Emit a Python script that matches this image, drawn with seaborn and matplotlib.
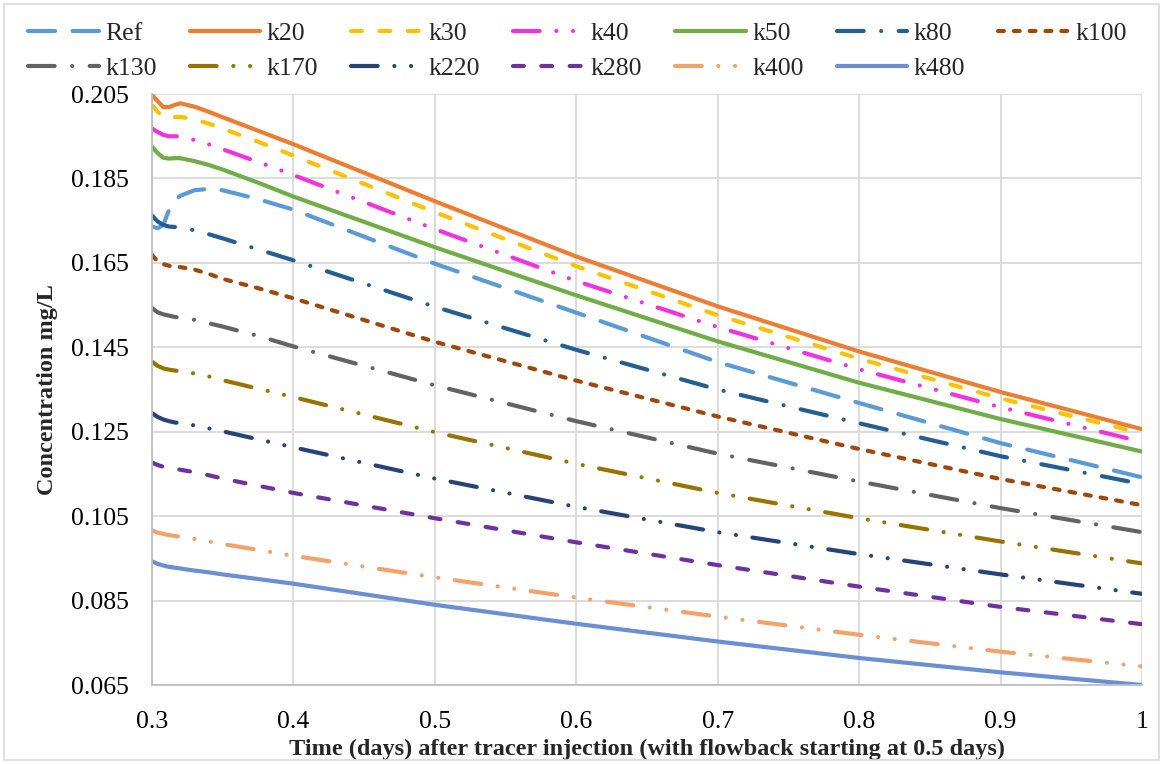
import matplotlib
matplotlib.use("Agg")
import matplotlib.pyplot as plt
from matplotlib.lines import Line2D
from matplotlib.patches import Rectangle
import numpy as np
import pandas as pd
import seaborn as sns

# Time after tracer injection (days)
TIME = [0.300, 0.304, 0.308, 0.312, 0.316, 0.320, 0.330, 0.340, 0.350, 0.375,
        0.400, 0.500, 0.600, 0.700, 0.800, 0.900, 1.000]

# Concentration (mg/L) for each case
REF = [0.1736, 0.1732, 0.1740, 0.1775, 0.1797, 0.1809, 0.1822, 0.1825, 0.1822, 0.1801,
       0.1776, 0.1648, 0.1532, 0.1415, 0.1318, 0.1223, 0.1142]
K20 = [0.2048, 0.2033, 0.2019, 0.2019, 0.2024, 0.2028, 0.2020, 0.2008, 0.1995, 0.1963,
       0.1931, 0.1796, 0.1665, 0.1547, 0.1440, 0.1344, 0.1256]
K30 = [0.2024, 0.2008, 0.1995, 0.1993, 0.1995, 0.1996, 0.1990, 0.1980, 0.1968, 0.1937,
       0.1904, 0.1770, 0.1642, 0.1526, 0.1423, 0.1329, 0.1246]
K40 = [0.1968, 0.1960, 0.1953, 0.1950, 0.1950, 0.1949, 0.1941, 0.1931, 0.1919, 0.1889,
       0.1858, 0.1730, 0.1607, 0.1498, 0.1398, 0.1308, 0.1226]
K50 = [0.1925, 0.1910, 0.1899, 0.1897, 0.1898, 0.1898, 0.1891, 0.1882, 0.1871, 0.1840,
       0.1807, 0.1687, 0.1573, 0.1464, 0.1366, 0.1280, 0.1203]
K80 = [0.1762, 0.1748, 0.1740, 0.1736, 0.1735, 0.1734, 0.1727, 0.1718, 0.1708, 0.1682,
       0.1656, 0.1546, 0.1444, 0.1350, 0.1270, 0.1192, 0.1126]
K100 = [0.1669, 0.1653, 0.1647, 0.1643, 0.1641, 0.1640, 0.1634, 0.1624, 0.1612, 0.1590,
        0.1566, 0.1463, 0.1371, 0.1286, 0.1209, 0.1138, 0.1076]
K130 = [0.1543, 0.1533, 0.1528, 0.1525, 0.1522, 0.1520, 0.1515, 0.1507, 0.1499, 0.1477,
        0.1452, 0.1360, 0.1275, 0.1198, 0.1132, 0.1069, 0.1012]
K170 = [0.1416, 0.1406, 0.1400, 0.1397, 0.1395, 0.1393, 0.1388, 0.1381, 0.1372, 0.1352,
        0.1332, 0.1249, 0.1174, 0.1105, 0.1045, 0.0990, 0.0938]
K220 = [0.1294, 0.1285, 0.1279, 0.1275, 0.1272, 0.1270, 0.1265, 0.1258, 0.1251, 0.1232,
        0.1213, 0.1139, 0.1072, 0.1012, 0.0960, 0.0912, 0.0866]
K280 = [0.1177, 0.1171, 0.1167, 0.1164, 0.1162, 0.1160, 0.1154, 0.1147, 0.1139, 0.1122,
        0.1105, 0.1045, 0.0988, 0.0934, 0.0883, 0.0835, 0.0794]
K400 = [0.1016, 0.1011, 0.1008, 0.1005, 0.1003, 0.1001, 0.0996, 0.0990, 0.0984, 0.0970,
        0.0956, 0.0905, 0.0857, 0.0812, 0.0769, 0.0729, 0.0694]
K480 = [0.0943, 0.0937, 0.0933, 0.0930, 0.0928, 0.0926, 0.0921, 0.0917, 0.0912, 0.0901,
        0.0890, 0.0840, 0.0795, 0.0753, 0.0714, 0.0680, 0.0650]

NAMES = ["Ref", "k20", "k30", "k40", "k50", "k80", "k100",
         "k130", "k170", "k220", "k280", "k400", "k480"]
SERIES = [REF, K20, K30, K40, K50, K80, K100, K130, K170, K220, K280, K400, K480]

X_TICKS = [0.3, 0.4, 0.5, 0.6, 0.7, 0.8, 0.9, 1.0]
X_TICK_LABELS = ["0.3", "0.4", "0.5", "0.6", "0.7", "0.8", "0.9", "1"]
Y_TICKS = [0.065, 0.085, 0.105, 0.125, 0.145, 0.165, 0.185, 0.205]

COLORS = {
    "Ref": "#5B9BD5", "k20": "#ED7D31", "k30": "#FFC000", "k40": "#F033DC",
    "k50": "#70AD47", "k80": "#255E91", "k100": "#9E480E", "k130": "#636363",
    "k170": "#997300", "k220": "#264478", "k280": "#7030A0", "k400": "#F5A26A",
    "k480": "#6A8FD2",
}

# dash patterns in units of line width (round caps lengthen each dash)
LONG_DASH = (6.5, 4.2)
DASH = (2.6, 4.2)
SYS_DASH = (1.4, 2.4)
LONG_DASH_DOT = (6.4, 4.2, 0.01, 4.2)
LONG_DASH_DOT_DOT = (6.4, 4.0, 0.01, 4.0, 0.01, 4.0)
DASHES = {
    "Ref": LONG_DASH, "k20": "", "k30": DASH, "k40": LONG_DASH_DOT_DOT,
    "k50": "", "k80": LONG_DASH_DOT, "k100": SYS_DASH, "k130": LONG_DASH_DOT,
    "k170": LONG_DASH_DOT_DOT, "k220": LONG_DASH_DOT_DOT, "k280": DASH,
    "k400": LONG_DASH_DOT_DOT, "k480": "",
}

df = pd.concat(
    [pd.DataFrame({"t": TIME, "c": vals, "series": name}) for name, vals in zip(NAMES, SERIES)],
    ignore_index=True,
)

sns.set_theme(style="white")
plt.rcParams["font.family"] = ["Liberation Serif", "DejaVu Serif"]

W, H = 1163, 764
fig = plt.figure(figsize=(W / 100, H / 100), dpi=100)
ax = fig.add_axes([152 / W, 1 - 685 / H, 990 / W, 591 / H])

LW = 3.0
sns.lineplot(
    data=df, x="t", y="c", hue="series", style="series",
    hue_order=NAMES, style_order=NAMES, palette=COLORS, dashes=DASHES,
    linewidth=LW, estimator=None, sort=False, legend=False, ax=ax,
)
for ln in ax.lines:
    ln.set_dash_capstyle("round")
    ln.set_solid_capstyle("round")

ax.set_xlim(0.3, 1.0)
ax.set_ylim(0.065, 0.205)
ax.set_xticks(X_TICKS)
ax.set_xticklabels(X_TICK_LABELS)
ax.set_yticks(Y_TICKS)
ax.set_yticklabels([f"{v:.3f}" for v in Y_TICKS])
ax.tick_params(axis="both", length=0, labelsize=18.5, colors="#000000")
ax.tick_params(axis="x", pad=19)
ax.tick_params(axis="y", pad=17)

ax.grid(True, color="#D9D9D9", linewidth=1.3)
ax.set_axisbelow(True)
for side in ["top", "right"]:
    ax.spines[side].set_visible(False)
for side in ["left", "bottom"]:
    ax.spines[side].set_color("#BFBFBF")
    ax.spines[side].set_linewidth(1.3)

ax.set_xlabel("Time (days) after tracer injection (with flowback starting at 0.5 days)",
              fontsize=17.5, fontweight="bold", labelpad=4)
ax.set_ylabel("Concentration mg/L", fontsize=17.5, fontweight="bold", labelpad=9)

# legend laid out row by row: seven entries on the first row, six on the second
handles = {}
for name in NAMES:
    d = DASHES[name]
    if d == "":
        handles[name] = Line2D([], [], color=COLORS[name], lw=LW, solid_capstyle="round")
    else:
        handles[name] = Line2D([], [], color=COLORS[name], lw=LW, dashes=d,
                               dash_capstyle="round")
ncol = 7
order = []
for c in range(ncol):
    for r in range(2):
        i = r * ncol + c
        if i < len(NAMES):
            order.append(NAMES[i])

fig.legend(
    [handles[n] for n in order], order, loc="upper left",
    bbox_to_anchor=(28 / W, 1 - 22 / H),
    ncol=ncol, frameon=False, fontsize=18.5, handlelength=2.75, handletextpad=0.25,
    columnspacing=1.29, labelspacing=0.46, borderpad=0, borderaxespad=0,
)

fig.patches.append(Rectangle((4 / W, 4 / H), 1 - 8 / W, 1 - 8 / H, transform=fig.transFigure,
                             fill=False, edgecolor="#D9D9D9", linewidth=1.2))

fig.savefig("out.png", dpi=100)
